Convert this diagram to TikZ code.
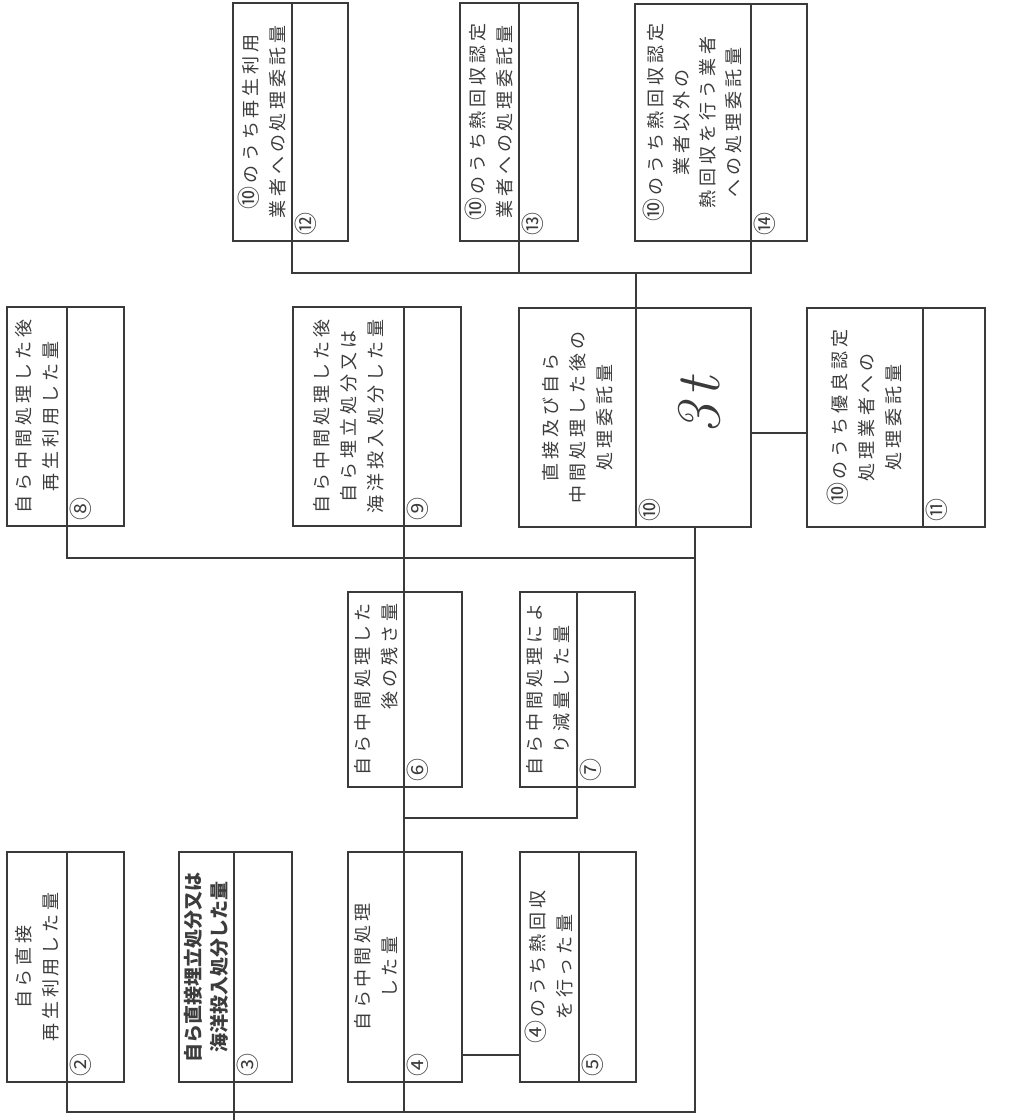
\documentclass[tikz,border=0pt]{standalone}
\usepackage{fontspec}
\newfontfamily\jp{Noto Sans CJK JP}[LetterSpace=22]
\newfontfamily\jpb{Noto Sans CJK JP}
\newfontfamily\jpn{Noto Sans CJK JP}
\newcommand\cn[1]{{\jpn\fontsize{23}{23}\selectfont #1}\hspace{3pt}}
\definecolor{ln}{HTML}{3A3A3A}
\definecolor{tx}{HTML}{3C3C3C}
\tikzset{
  frame/.style={draw=ln, line width=1.2pt},
  wire/.style={draw=ln, line width=1.3pt},
  lbl/.style={rotate=90, align=center, font=\jp\fontsize{18}{27}\selectfont, text=tx, inner sep=0pt},
  num/.style={rotate=90, font=\jpn\fontsize{23}{23}\selectfont, text=tx, inner sep=0pt},
}
% #1 name, #2 x1, #3 y1, #4 x2, #5 y2, #6 divider x, #7 label, #8 numeral, #9 label style
\newcommand\formbox[9]{%
  \draw[frame] (#2,#3) rectangle (#4,#5);
  \draw[frame] (#6,#3) -- (#6,#5);
  \coordinate (#1t) at (#6,#3);
  \coordinate (#1b) at (#6,#5);
  \node[lbl,#9] (#1l) at ({(#2+#6)/2},{(#3+#5)/2}) {#7};
  \node[num] (#1n) at ({#6+14},{#5-17}) {#8};
}
\begin{document}
\begin{tikzpicture}[x=1pt,y=-1pt]
\useasboundingbox (0,0) rectangle (1018,1120);
\fill[white] (0,0) rectangle (1018,1120);

% bottom row
\formbox{b2}{7}{852}{124}{1082}{67}{自ら直接\\再生利用した量}{②}{}
\formbox{b3}{179}{852}{292}{1082}{234}{自ら直接埋立処分又は\\海洋投入処分した量}{③}{font=\jpb\bfseries\fontsize{19}{26}\selectfont}
\formbox{b4}{348}{852}{462}{1082}{404}{自ら中間処理\\した量}{④}{}
\formbox{b5}{520}{852}{636}{1082}{579}{\cn{④}のうち熱回収\\を行った量}{⑤}{}
% middle row
\formbox{b6}{348}{592}{462}{787}{404}{自ら中間処理した\\後の残さ量}{⑥}{align=right}
\formbox{b7}{520}{592}{635}{787}{577}{自ら中間処理によ\\り減量した量}{⑦}{}
% upper row
\formbox{b8}{7}{307}{124}{526}{67}{自ら中間処理した後\\再生利用した量}{⑧}{}
\formbox{b9}{293}{307}{461}{526}{404}{自ら中間処理した後\\自ら埋立処分又は\\海洋投入処分した量}{⑨}{}
\formbox{b10}{519}{308}{751}{527}{636}{直接及び自ら\\中間処理した後の\\処理委託量}{⑩}{}
\formbox{b11}{807}{308}{985}{527}{923}{\cn{⑩}のうち優良認定\\処理業者への\\処理委託量}{⑪}{}
% top row
\formbox{b12}{233}{3}{348}{241}{292}{\cn{⑩}のうち再生利用\\業者への処理委託量}{⑫}{}
\formbox{b13}{460}{3}{578}{241}{519}{\cn{⑩}のうち熱回収認定\\業者への処理委託量}{⑬}{}
\formbox{b14}{635}{4}{807}{241}{751}{\cn{⑩}のうち熱回収認定\\業者以外の\\熱回収を行う業者\\への処理委託量}{⑭}{font=\jp\fontsize{18}{26}\selectfont}

% handwritten entry
\node[rotate=90, text=ln, font=\rmfamily\itshape\fontsize{62}{62}\selectfont, inner sep=0pt] (hw) at (700,406) {3\kern6pt t};

% connection points on box edges
\coordinate (b10r) at (695,527);
\coordinate (b10e) at (751,433);
\coordinate (b11w) at (807,433);
\coordinate (b4e) at (462,1055);
\coordinate (b5w) at (520,1055);
\coordinate (root) at (234,1120);

% connectors
\draw[wire] (b2b) -- (67,1112) -| (b10r);
\draw[wire] (b4b) -- (404,1112);
\draw[wire] (b3b) -- (root);
\draw[wire] (b8b) -- (67,558) -- (695,558);
\draw[wire] (b9b) -- (b6t);
\draw[wire] (b6b) -- (b4t);
\draw[wire] (404,818) -| (b7b);
\draw[wire] (b4e) -- (b5w);
\draw[wire] (b10e) -- (b11w);
\draw[wire] (b10t) -- (636,273);
\draw[wire] (b12b) |- (751,273) -- (b14b);
\draw[wire] (b13b) -- (519,273);
\end{tikzpicture}
\end{document}
